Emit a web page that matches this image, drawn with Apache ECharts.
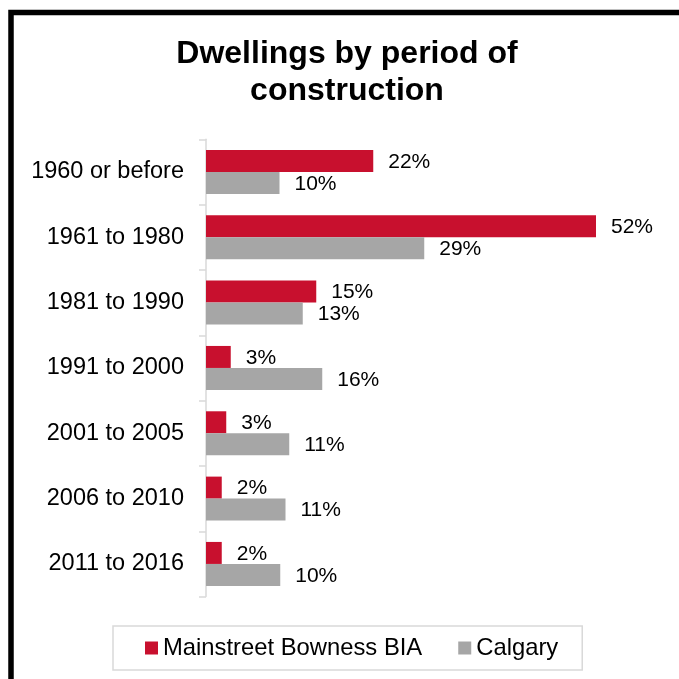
<!DOCTYPE html>
<html>
<head>
<meta charset="utf-8">
<script src="https://cdn.jsdelivr.net/npm/echarts@6/dist/echarts.min.js"></script>
<style>
html,body{margin:0;padding:0;background:#fff;}
#chart{width:679px;height:679px;}
</style>
</head>
<body>
<div id="chart"></div>
<script>
var categories = ['1960 or before','1961 to 1980','1981 to 1990','1991 to 2000','2001 to 2005','2006 to 2010','2011 to 2016'];
var bowness = [22.3, 52.0, 14.7, 3.3, 2.7, 2.1, 2.1];
var calgary = [9.8, 29.1, 12.9, 15.5, 11.1, 10.6, 9.9];
var seriesNames = ['Mainstreet Bowness BIA', 'Calgary'];
var titleText = 'Dwellings by period of\nconstruction';

var FONT = '"Liberation Sans", Arial, Helvetica, sans-serif';
var chart = echarts.init(document.getElementById('chart'), null, {renderer: 'canvas'});
function pct(p){ return Math.round(p.value) + '%'; }
var labelStyle = {show: true, position: 'right', distance: 15, offset: [0, 1], formatter: pct,
  color: '#000', fontSize: 21, fontFamily: FONT};
chart.setOption({
  animation: false,
  backgroundColor: '#fff',
  graphic: [{
    type: 'rect', silent: true,
    shape: {x: 11, y: 12.5, width: 760, height: 760},
    style: {fill: 'none', stroke: '#000', lineWidth: 5.5}
  }],
  title: {
    text: titleText, left: 347, top: 35.5, padding: 0, textAlign: 'center',
    textStyle: {fontSize: 32, fontWeight: 'bold', fontFamily: FONT, color: '#000', lineHeight: 37}
  },
  legend: {
    left: 113, top: 626,
    padding: [10, 24, 10, 32],
    borderColor: '#d9d9d9', borderWidth: 1.5,
    itemWidth: 13, itemHeight: 13, itemGap: 36,
    icon: 'rect',
    textStyle: {fontSize: 23.8, fontFamily: FONT, color: '#000', lineHeight: 23},
    data: seriesNames
  },
  grid: {left: 206, top: 139.3, width: 450, height: 457.3, containLabel: false},
  xAxis: {type: 'value', min: 0, max: 60, show: false},
  yAxis: {
    type: 'category', data: categories, inverse: true,
    axisLine: {show: true, lineStyle: {color: '#d9d9d9', width: 1.5}},
    axisTick: {show: true, length: 7, lineStyle: {color: '#d9d9d9', width: 1.5}},
    axisLabel: {margin: 22, fontSize: 23.5, fontFamily: FONT, color: '#000'},
    splitLine: {show: false}
  },
  series: [
    {name: seriesNames[0], type: 'bar', data: bowness, barWidth: 22, barGap: '0%',
     itemStyle: {color: '#C8102E'}, label: labelStyle},
    {name: seriesNames[1], type: 'bar', data: calgary, barWidth: 22, barGap: '0%',
     itemStyle: {color: '#A6A6A6'}, label: labelStyle}
  ]
});
</script>
</body>
</html>
